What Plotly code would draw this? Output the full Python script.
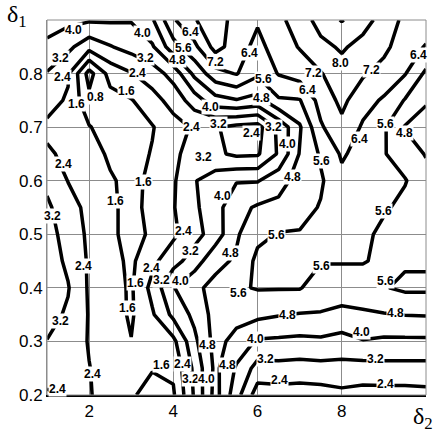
import numpy as np
import plotly.graph_objects as go

# delta2 grid (x) and delta1 grid (y)
delta2 = [1, 1.5, 2, 2.5, 3, 3.5, 4, 4.5, 5, 5.5, 6, 6.5, 7, 7.5, 8, 8.5, 9, 9.5, 10]
delta1 = [0.9, 0.85, 0.8, 0.75, 0.7, 0.65, 0.6, 0.55, 0.5, 0.45, 0.4, 0.35, 0.3, 0.25, 0.2]

# values per delta2 column, listed from delta1 = 0.9 down to 0.2
col_1_0 = [4.4, 3.8, 3.15, 2.7, 2.25, 2.5, 3.0, 3.35, 3.5, 3.6, 3.6, 3.45, 3.18, 2.75, 2.3]
col_1_5 = [4.2, 3.4, 2.5, 2.3, 2.0, 2.25, 2.38, 2.7, 2.9, 3.05, 3.25, 3.1, 2.85, 2.6, 2.45]
col_2_0 = [4.1, 2.7, 0.5, 1.0, 1.65, 2.0, 2.05, 2.2, 2.25, 2.3, 2.3, 2.35, 2.35, 2.42, 2.45]
col_2_5 = [4.1, 3.15, 1.9, 1.3, 1.2, 1.45, 1.7, 1.75, 1.75, 1.85, 1.9, 1.95, 2.0, 2.1, 2.1]
col_3_0 = [4.05, 3.5, 2.35, 1.55, 1.3, 1.3, 1.35, 1.35, 1.35, 1.45, 1.5, 1.5, 1.62, 1.7, 1.7]
col_3_5 = [4.7, 3.9, 2.8, 2.1, 1.55, 1.65, 1.8, 1.85, 1.72, 2.2, 2.65, 2.3, 1.9, 1.65, 1.3]
col_4_0 = [6.3, 5.3, 3.5, 2.7, 2.1, 2.2, 2.3, 2.35, 2.25, 2.9, 3.95, 3.4, 2.2, 1.75, 1.5]
col_4_5 = [7.15, 6.2, 5.0, 3.6, 2.5, 2.8, 3.15, 3.05, 2.9, 3.6, 4.65, 4.2, 3.8, 3.4, 3.3]
col_5_0 = [7.6, 7.5, 6.1, 4.5, 2.45, 2.55, 3.6, 3.7, 3.6, 4.6, 5.0, 5.1, 5.1, 5.0, 5.1]
col_5_5 = [6.9, 6.8, 6.45, 4.75, 2.2, 2.25, 3.95, 4.55, 4.7, 4.9, 5.5, 5.1, 4.5, 3.9, 3.5]
col_6_0 = [6.5, 6.15, 5.75, 4.5, 2.1, 2.3, 3.95, 4.9, 5.4, 5.8, 5.65, 5.0, 3.9, 2.9, 2.0]
col_6_5 = [7.0, 6.8, 6.45, 5.5, 3.4, 3.3, 4.5, 5.0, 5.65, 5.9, 5.65, 4.85, 3.85, 2.95, 2.05]
col_7_0 = [7.6, 7.25, 6.75, 5.55, 4.7, 4.85, 5.1, 5.35, 5.65, 5.95, 5.65, 4.75, 3.8, 2.9, 2.0]
col_7_5 = [8.3, 7.8, 7.15, 6.7, 6.3, 5.7, 5.5, 5.65, 5.85, 5.65, 5.2, 4.75, 3.85, 2.95, 2.05]
col_8_0 = [8.85, 8.1, 7.7, 7.4, 7.0, 6.5, 6.2, 6.0, 5.85, 5.65, 5.2, 4.6, 3.7, 2.95, 2.2]
col_8_5 = [8.3, 7.75, 7.3, 6.7, 6.3, 6.1, 6.0, 5.9, 5.8, 5.65, 5.2, 4.7, 3.95, 2.9, 2.1]
col_9_0 = [7.7, 7.4, 6.9, 6.3, 5.7, 5.65, 5.9, 5.7, 5.4, 5.45, 5.55, 4.75, 3.85, 2.95, 2.1]
col_9_5 = [7.0, 6.75, 6.45, 5.55, 4.75, 5.2, 5.65, 5.4, 5.2, 5.5, 5.75, 4.82, 3.85, 2.95, 2.1]
col_10_0 = [6.8, 6.35, 5.45, 4.9, 4.4, 4.75, 5.1, 5.1, 5.3, 5.5, 5.75, 4.85, 3.85, 2.95, 2.15]

columns = [col_1_0, col_1_5, col_2_0, col_2_5, col_3_0, col_3_5, col_4_0, col_4_5,
           col_5_0, col_5_5, col_6_0, col_6_5, col_7_0, col_7_5, col_8_0, col_8_5,
           col_9_0, col_9_5, col_10_0]

# contour level labels as they appear on the chart
label_text = ["4.0", "3.2", "2.4", "1.6", "0.8", "1.6", "4.0", "3.2", "2.4",
              "6.4", "5.6", "4.8", "7.2", "6.4", "5.6", "4.8",
              "7.2", "6.4", "8.0", "7.2", "6.4",
              "4.0", "3.2", "2.4", "2.4", "3.2", "4.0", "5.6", "6.4", "5.6", "4.8",
              "3.2", "4.0", "4.8", "1.6", "1.6", "2.4",
              "3.2", "2.4", "1.6", "1.6", "3.2", "2.4", "2.4",
              "2.4", "3.2", "2.4", "3.2", "4.0", "4.8", "5.6", "5.6",
              "4.8", "1.6", "2.4", "3.2", "4.0", "4.8",
              "4.0", "3.2", "2.4", "4.8", "5.6", "5.6", "5.6", "4.8", "4.0", "3.2", "2.4"]
label_d2 = [1.62, 1.31, 1.36, 1.71, 2.14, 2.88, 3.26, 3.33, 3.14,
            4.40, 4.23, 4.09, 4.99, 5.82, 6.15, 6.10,
            7.32, 7.18, 7.98, 8.70, 9.81,
            4.88, 5.08, 4.44, 5.85, 6.37, 6.72, 7.51, 8.43, 9.03, 9.50,
            4.71, 5.16, 6.82, 3.28, 2.62, 1.38,
            1.14, 1.86, 3.09, 2.92, 1.31, 2.07, 1.26,
            4.23, 4.40, 3.49, 3.73, 4.16, 5.35, 6.44, 5.54,
            4.82, 3.73, 4.21, 4.40, 4.78, 5.28,
            5.94, 6.20, 6.53, 6.72, 7.51, 8.98, 9.03, 9.27, 8.46, 8.79, 9.03]
label_d1 = [0.881, 0.830, 0.793, 0.743, 0.757, 0.767, 0.876, 0.830, 0.802,
            0.878, 0.848, 0.826, 0.822, 0.839, 0.790, 0.755,
            0.802, 0.770, 0.820, 0.807, 0.835,
            0.738, 0.706, 0.700, 0.690, 0.700, 0.668, 0.637, 0.678, 0.705, 0.690,
            0.644, 0.572, 0.607, 0.598, 0.563, 0.631,
            0.535, 0.440, 0.410, 0.363, 0.339, 0.239, 0.211,
            0.507, 0.469, 0.437, 0.415, 0.413, 0.465, 0.498, 0.390,
            0.294, 0.256, 0.257, 0.230, 0.230, 0.256,
            0.304, 0.267, 0.228, 0.350, 0.441, 0.543, 0.413, 0.354, 0.317, 0.267, 0.220]

x_ticks = [2, 4, 6, 8]
y_ticks = [0.2, 0.3, 0.4, 0.5, 0.6, 0.7, 0.8]

z = np.array(columns).T  # rows follow delta1 order

fig = go.Figure(go.Contour(
    x=delta2, y=delta1, z=z,
    contours=dict(start=0.8, end=8.8, size=0.8, coloring="lines", showlabels=False),
    colorscale=[[0, "black"], [1, "black"]],
    showscale=False,
    line=dict(width=3.5, smoothing=0),
    hoverinfo="skip",
))

annotations = [
    dict(x=xv, y=yv, xref="x", yref="y", text="<b>%s</b>" % t, showarrow=False,
         font=dict(family="Liberation Sans, Arial", size=12, color="black"),
         bgcolor="white", borderpad=0, xanchor="center", yanchor="middle")
    for t, xv, yv in zip(label_text, label_d2, label_d1)
]
annotations += [
    dict(text="δ<sub>1</sub>", xref="paper", yref="paper", x=-0.11, y=1.055,
         xanchor="left", yanchor="top", showarrow=False,
         font=dict(family="Liberation Serif, Times New Roman", size=24, color="black")),
    dict(text="δ<sub>2</sub>", xref="paper", yref="paper", x=1.025, y=-0.015,
         xanchor="right", yanchor="top", showarrow=False,
         font=dict(family="Liberation Serif, Times New Roman", size=24, color="black")),
]

grid_col = "#8c8c8c"
fig.update_layout(
    width=437, height=432,
    margin=dict(l=47, r=11, t=20, b=34),
    paper_bgcolor="white", plot_bgcolor="white",
    showlegend=False,
    xaxis=dict(range=[1, 10], tickvals=x_ticks, ticktext=[str(v) for v in x_ticks],
               showgrid=True, gridcolor=grid_col, gridwidth=1, zeroline=False,
               showline=True, linecolor="black", linewidth=1.5, ticks="",
               tickfont=dict(family="Liberation Sans, Arial", size=17, color="black")),
    yaxis=dict(range=[0.2, 0.9], tickvals=y_ticks, ticktext=["%.1f" % v for v in y_ticks],
               showgrid=True, gridcolor=grid_col, gridwidth=1, zeroline=False,
               showline=True, linecolor=grid_col, linewidth=1, ticks="",
               tickfont=dict(family="Liberation Sans, Arial", size=17, color="black")),
    shapes=[dict(type="rect", xref="paper", yref="paper", x0=0, y0=0, x1=1, y1=1,
                 line=dict(color=grid_col, width=1), layer="above")],
    annotations=annotations,
)

fig.write_html("out.html", config={"displayModeBar": False},
               post_script="document.body.style.margin='0px';document.body.style.padding='0px';")
